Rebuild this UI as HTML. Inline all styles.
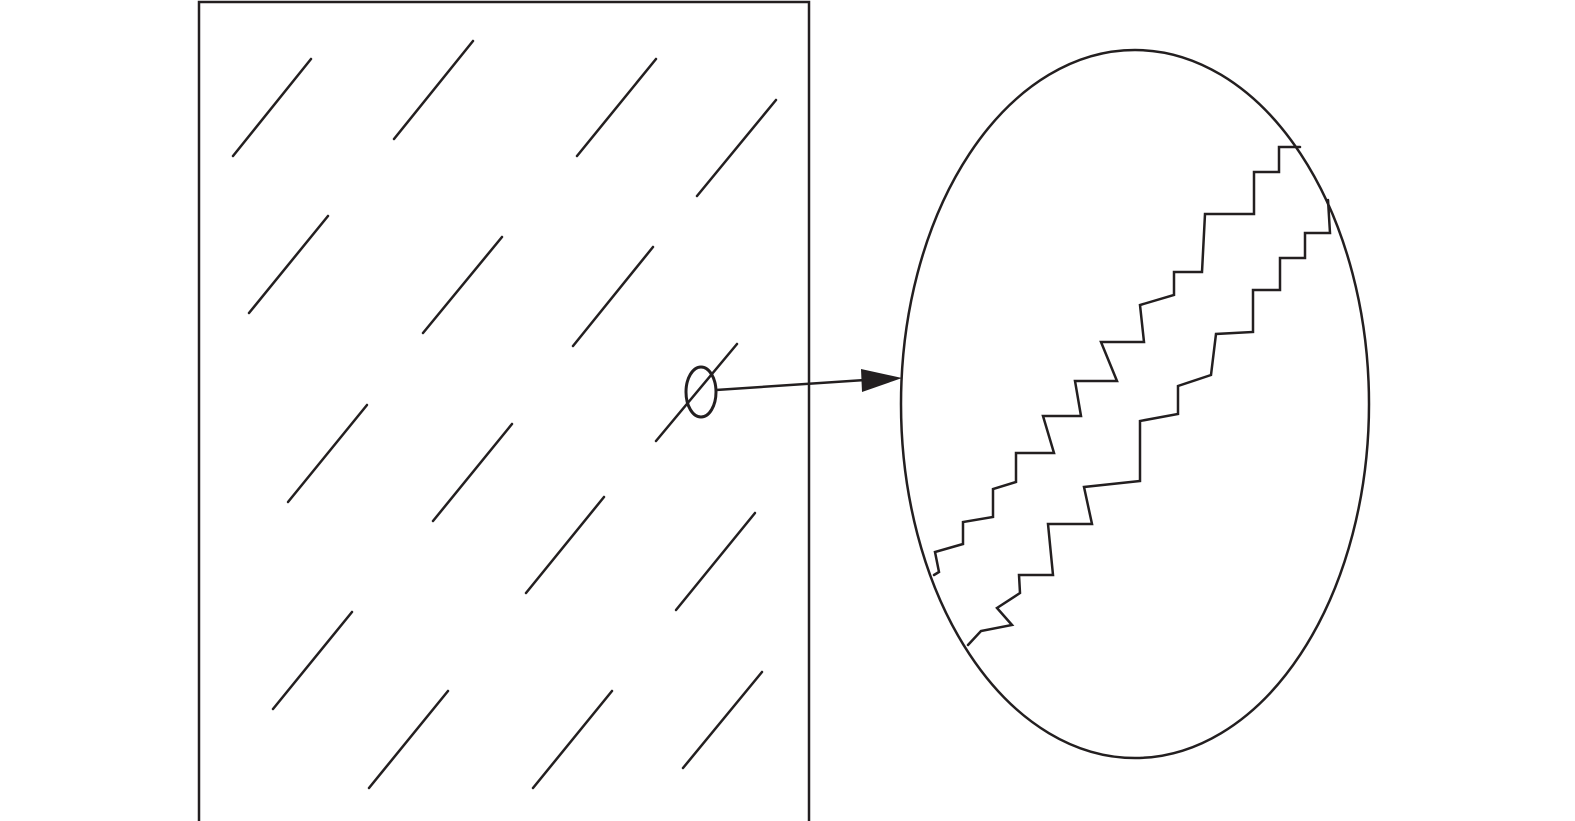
<!DOCTYPE html>
<html><head><meta charset="utf-8"><style>html,body{margin:0;padding:0;background:#fff;}svg{display:block}</style></head>
<body>
<svg width="1575" height="821" viewBox="0 0 1575 821" xmlns="http://www.w3.org/2000/svg">
<rect x="0" y="0" width="1575" height="821" fill="#fff"/>
<g fill="none" stroke="#231f20" stroke-linecap="round" stroke-linejoin="miter">
<rect x="199" y="2" width="610" height="830" stroke-width="2.5"/>
<g stroke-width="2.5">
<line x1="233" y1="156" x2="311" y2="59"/>
<line x1="394" y1="139" x2="473" y2="41"/>
<line x1="577" y1="156" x2="656" y2="59"/>
<line x1="697" y1="196" x2="776" y2="100"/>
<line x1="249" y1="313" x2="328" y2="216"/>
<line x1="423" y1="333" x2="502" y2="237"/>
<line x1="573" y1="346" x2="653" y2="247"/>
<line x1="656" y1="441" x2="737" y2="344"/>
<line x1="288" y1="502" x2="367" y2="405"/>
<line x1="433" y1="521" x2="512" y2="424"/>
<line x1="526" y1="593" x2="604" y2="497"/>
<line x1="676" y1="610" x2="755" y2="513"/>
<line x1="273" y1="709" x2="352" y2="612"/>
<line x1="369" y1="788" x2="448" y2="691"/>
<line x1="533" y1="788" x2="612" y2="691"/>
<line x1="683" y1="768" x2="762" y2="672"/>
</g>
<ellipse cx="701" cy="392" rx="15" ry="25" stroke-width="3"/>
<line x1="716" y1="390" x2="865" y2="380" stroke-width="2.5"/>
<ellipse cx="1135" cy="404" rx="234" ry="354" stroke-width="2.5"/>
<polyline stroke-width="2.5" points="1300,147 1279,147 1279,172 1254,172 1254,214 1205,214 1202,272 1174,272 1174,295 1140,305 1144,342 1101,342 1117,381 1075,381 1081,416 1043,416 1054,453 1016,453 1016,482 993,489 993,517 963,522 963,544 935,552 939,572 934,575"/>
<polyline stroke-width="2.5" points="1328,200 1330,233 1305,233 1305,258 1280,258 1280,290 1253,290 1253,332 1216,334 1211,375 1178,386 1178,414 1140,421 1140,481 1084,487 1092,524 1048,524 1053,575 1019,575 1020,593 997,608 1012,625 981,631 968,645"/>
</g>
<polygon points="902,378 861,369 862,392" fill="#231f20"/>
</svg>
</body></html>
